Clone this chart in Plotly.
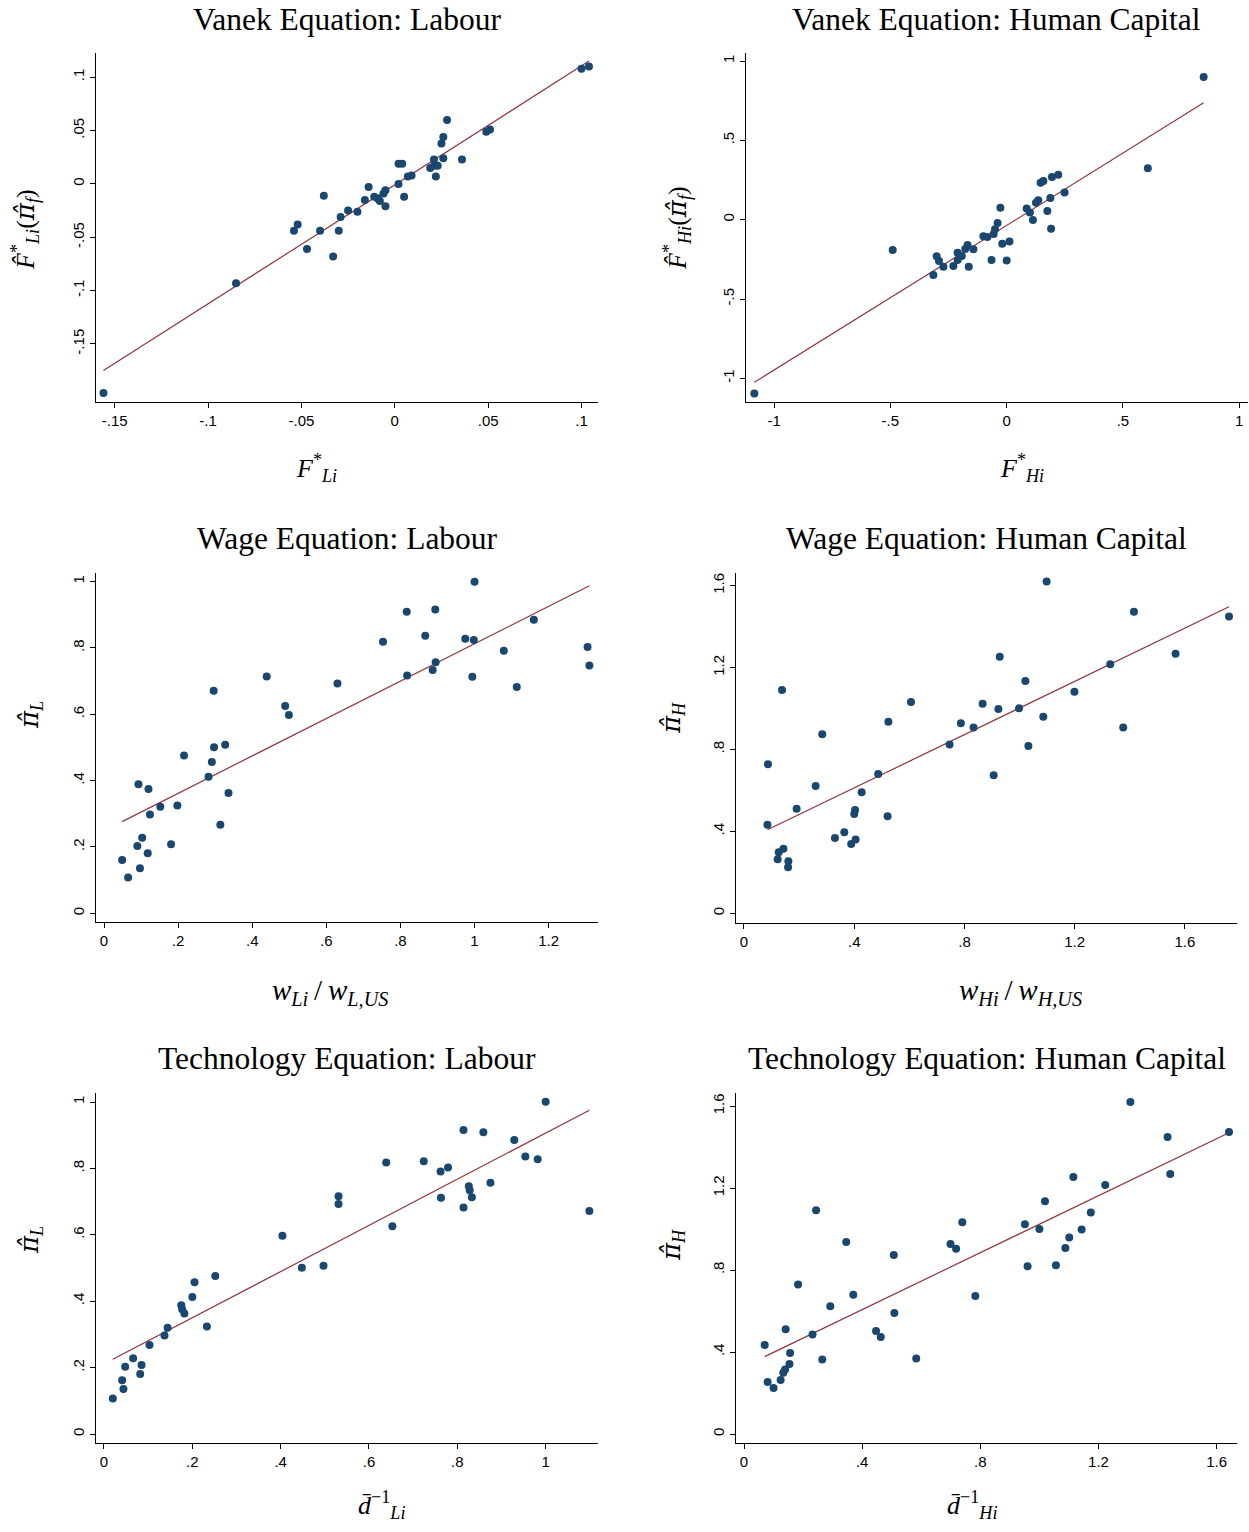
import numpy as np
import plotly.graph_objects as go

# ---------------- data ----------------
# Vanek Equation: Labour
vl_x = [-0.156, -0.085, -0.054, -0.052, -0.047, -0.040, -0.038, -0.033, -0.030, -0.029,
        -0.025, -0.020, -0.016, -0.014, -0.011, -0.009, -0.008, -0.006, -0.005, -0.005,
        0.002, 0.002, 0.004, 0.005, 0.007, 0.009, 0.019, 0.021, 0.021, 0.022,
        0.023, 0.025, 0.026, 0.026, 0.028, 0.036, 0.049, 0.051, 0.100, 0.104]
vl_y = [-0.196, -0.093, -0.044, -0.038, -0.061, -0.044, -0.011, -0.068, -0.044, -0.031,
        -0.025, -0.026, -0.015, -0.003, -0.012, -0.014, -0.016, -0.009, -0.006, -0.021,
        0.000, 0.019, 0.019, -0.012, 0.007, 0.008, 0.015, 0.023, 0.017, 0.007,
        0.017, 0.038, 0.044, 0.024, 0.060, 0.023, 0.049, 0.051, 0.108, 0.110]

# Vanek Equation: Human Capital
vh_x = [-1.085, -0.490, -0.315, -0.301, -0.291, -0.272, -0.229, -0.211, -0.211, -0.193,
        -0.178, -0.168, -0.163, -0.143, -0.100, -0.083, -0.065, -0.056, -0.050, -0.039,
        -0.027, -0.019, 0.000, 0.012, 0.086, 0.100, 0.113, 0.126, 0.136, 0.146,
        0.158, 0.175, 0.188, 0.191, 0.195, 0.222, 0.249, 0.607, 0.847]
vh_y = [-1.095, -0.191, -0.349, -0.231, -0.261, -0.296, -0.292, -0.208, -0.254, -0.229,
        -0.185, -0.160, -0.296, -0.187, -0.105, -0.109, -0.254, -0.090, -0.061, -0.021,
        0.076, -0.151, -0.258, -0.137, 0.071, 0.046, -0.002, 0.107, 0.122, 0.233,
        0.244, 0.055, 0.137, -0.057, 0.269, 0.284, 0.172, 0.324, 0.899]

# Wage Equation: Labour
wl_x = [0.049, 0.065, 0.090, 0.093, 0.097, 0.103, 0.118, 0.120, 0.124, 0.152,
        0.181, 0.198, 0.216, 0.282, 0.291, 0.296, 0.297, 0.314, 0.327, 0.336,
        0.439, 0.489, 0.499, 0.630, 0.753, 0.817, 0.818, 0.867, 0.887, 0.894,
        0.895, 0.975, 0.994, 0.998, 1.000, 1.079, 1.114, 1.160, 1.305, 1.310]
wl_y = [0.161, 0.108, 0.203, 0.389, 0.136, 0.228, 0.181, 0.375, 0.298, 0.321,
        0.208, 0.325, 0.476, 0.412, 0.456, 0.671, 0.501, 0.267, 0.508, 0.363,
        0.714, 0.625, 0.598, 0.693, 0.819, 0.909, 0.717, 0.837, 0.734, 0.916,
        0.757, 0.828, 0.713, 0.824, 1.000, 0.792, 0.682, 0.885, 0.803, 0.747]

# Wage Equation: Human Capital
wh_x = [0.085, 0.087, 0.122, 0.126, 0.138, 0.143, 0.161, 0.160, 0.191, 0.260,
        0.284, 0.330, 0.364, 0.389, 0.400, 0.403, 0.405, 0.427, 0.487, 0.521,
        0.524, 0.606, 0.746, 0.787, 0.833, 0.866, 0.906, 0.923, 0.928, 0.998,
        1.021, 1.032, 1.086, 1.098, 1.199, 1.329, 1.376, 1.415, 1.566, 1.760]
wh_y = [0.433, 0.728, 0.264, 0.298, 1.091, 0.316, 0.254, 0.225, 0.511, 0.622,
        0.874, 0.368, 0.396, 0.339, 0.485, 0.505, 0.361, 0.591, 0.680, 0.474,
        0.936, 1.032, 0.824, 0.928, 0.907, 1.024, 0.674, 0.998, 1.253, 1.001,
        1.134, 0.817, 0.960, 1.621, 1.082, 1.216, 0.908, 1.473, 1.268, 1.450]

# Technology Equation: Labour
tl_x = [0.020, 0.041, 0.044, 0.048, 0.066, 0.082, 0.085, 0.103, 0.137, 0.144,
        0.175, 0.177, 0.182, 0.200, 0.205, 0.233, 0.252, 0.404, 0.448, 0.497,
        0.531, 0.531, 0.639, 0.653, 0.724, 0.762, 0.763, 0.779, 0.814, 0.814,
        0.826, 0.828, 0.833, 0.859, 0.875, 0.929, 0.954, 0.982, 1.000, 1.099]
tl_y = [0.107, 0.162, 0.136, 0.203, 0.228, 0.181, 0.208, 0.268, 0.297, 0.320,
        0.388, 0.376, 0.363, 0.413, 0.457, 0.324, 0.476, 0.597, 0.501, 0.507,
        0.716, 0.693, 0.818, 0.626, 0.822, 0.791, 0.712, 0.803, 0.916, 0.682,
        0.746, 0.734, 0.713, 0.909, 0.757, 0.886, 0.836, 0.828, 1.001, 0.672]

# Technology Equation: Human Capital
th_x = [0.070, 0.080, 0.100, 0.124, 0.133, 0.139, 0.141, 0.154, 0.156, 0.183,
        0.232, 0.244, 0.265, 0.292, 0.346, 0.370, 0.447, 0.463, 0.507, 0.509,
        0.583, 0.699, 0.718, 0.739, 0.783, 0.951, 0.960, 1.000, 1.019, 1.056,
        1.088, 1.101, 1.115, 1.143, 1.174, 1.223, 1.308, 1.434, 1.443, 1.642]
th_y = [0.434, 0.254, 0.224, 0.263, 0.299, 0.315, 0.511, 0.342, 0.395, 0.729,
        0.486, 1.091, 0.363, 0.623, 0.937, 0.680, 0.502, 0.473, 0.873, 0.590,
        0.369, 0.927, 0.904, 1.033, 0.673, 1.023, 0.818, 1.000, 1.135, 0.823,
        0.907, 0.959, 1.254, 0.998, 1.081, 1.215, 1.620, 1.449, 1.268, 1.473]

# tick values / labels
t_vl = [-0.15, -0.1, -0.05, 0, 0.05, 0.1]
l_vl = ["-.15", "-.1", "-.05", "0", ".05", ".1"]
t_vh = [-1, -0.5, 0, 0.5, 1]
l_vh = ["-1", "-.5", "0", ".5", "1"]
t_02 = [0, 0.2, 0.4, 0.6, 0.8, 1]
l_02 = ["0", ".2", ".4", ".6", ".8", "1"]
t_02x = [0, 0.2, 0.4, 0.6, 0.8, 1, 1.2]
l_02x = ["0", ".2", ".4", ".6", ".8", "1", "1.2"]
t_04 = [0, 0.4, 0.8, 1.2, 1.6]
l_04 = ["0", ".4", ".8", "1.2", "1.6"]

titles = ["Vanek Equation: Labour", "Vanek Equation: Human Capital",
          "Wage Equation: Labour", "Wage Equation: Human Capital",
          "Technology Equation: Labour", "Technology Equation: Human Capital"]

PIHAT = "<span style=\"font-family:DejaVu Serif\"><i>\u03c0\u0302</i></span>"
xtitles = ["<i>F</i><sup>*</sup><sub><i>Li</i></sub>",
           "<i>F</i><sup>*</sup><sub><i>Hi</i></sub>",
           "<i>w</i><sub><i>Li</i></sub>\u2009/\u2009<i>w</i><sub><i>L,US</i></sub>",
           "<i>w</i><sub><i>Hi</i></sub>\u2009/\u2009<i>w</i><sub><i>H,US</i></sub>",
           "<i>d\u0304</i><sup>\u22121</sup><sub><i>Li</i></sub>",
           "<i>d\u0304</i><sup>\u22121</sup><sub><i>Hi</i></sub>"]
ytitles = ["<i>F\u0302</i><sup>*</sup><sub><i>Li</i></sub>(" + PIHAT + "<sub><i>f</i></sub>)",
           "<i>F\u0302</i><sup>*</sup><sub><i>Hi</i></sub>(" + PIHAT + "<sub><i>f</i></sub>)",
           PIHAT + "<sub><i>L</i></sub>",
           PIHAT + "<sub><i>H</i></sub>",
           PIHAT + "<sub><i>L</i></sub>",
           PIHAT + "<sub><i>H</i></sub>"]
xtitle_size = [26, 26, 29, 29, 26, 26]

# ---------------- layout geometry (reference pixel coordinates) ----------------
W, H = 1249, 1532
panels = [
    dict(x=vl_x, y=vl_y, xt=(t_vl, l_vl), yt=(t_vl, l_vl), xr=[-0.160, 0.109], yr=[-0.2047, 0.123],
         px=(96, 598.3), py=(52.7, 402.3)),
    dict(x=vh_x, y=vh_y, xt=(t_vh, l_vh), yt=(t_vh, l_vh), xr=[-1.122, 1.039], yr=[-1.151, 1.0525],
         px=(745.7, 1248.3), py=(52.7, 402.3)),
    dict(x=wl_x, y=wl_y, xt=(t_02x, l_02x), yt=(t_02, l_02), xr=[-0.0216, 1.334], yr=[-0.0271, 1.027],
         px=(96, 598.3), py=(572.7, 922.3)),
    dict(x=wh_x, y=wh_y, xt=(t_04, l_04), yt=(t_04, l_04), xr=[-0.029, 1.79], yr=[-0.0456, 1.6634],
         px=(736, 1237.3), py=(572.7, 922.7)),
    dict(x=tl_x, y=tl_y, xt=(t_02, l_02), yt=(t_02, l_02), xr=[-0.0181, 1.1192], yr=[-0.0261, 1.0281],
         px=(96, 598.3), py=(1092.7, 1442.7)),
    dict(x=th_x, y=th_y, xt=(t_04, l_04), yt=(t_04, l_04), xr=[-0.0271, 1.67], yr=[-0.0423, 1.665],
         px=(736, 1237.3), py=(1092.7, 1442.7)),
]
title_y = [19, 19, 538, 538, 1058, 1058]
xtitle_pos = [(317, 468), (1022, 468), (330, 992), (1020, 992), (382, 1505), (972, 1505)]
ytitle_pos = [(25, 230), (677, 228), (30, 715), (672, 718), (30, 1240), (672, 1245)]


def fx(v):
    return v / W


def fy(v):
    return 1 - v / H


MARK = "#1a476f"
LINE = "#90353b"
TICKFONT = dict(family="Liberation Sans, Arial, sans-serif", size=15, color="black")
MATHFAM = "Liberation Serif, Times New Roman, serif"
TITLEFONT = dict(family="Liberation Serif, Times New Roman, serif", size=31.5, color="black")

fig = go.Figure()
annotations = []
layout = {}
for i, p in enumerate(panels):
    k = "" if i == 0 else str(i + 1)
    xa, ya = "x" + k, "y" + k
    x = np.array(p["x"]); y = np.array(p["y"])
    b, a = np.polyfit(x, y, 1)
    xl = np.array([x.min(), x.max()])
    fig.add_trace(go.Scatter(x=xl, y=a + b * xl, mode="lines", xaxis=xa, yaxis=ya,
                             line=dict(color=LINE, width=1.2), showlegend=False, hoverinfo="skip"))
    fig.add_trace(go.Scatter(x=x, y=y, mode="markers", xaxis=xa, yaxis=ya,
                             marker=dict(color=MARK, size=8, line=dict(width=0)), showlegend=False))
    x0, x1 = p["px"]; y0, y1 = p["py"]
    common = dict(showline=True, linecolor="black", linewidth=1, ticks="outside", ticklen=5,
                  tickwidth=1, tickcolor="black", showgrid=False, zeroline=False,
                  tickfont=TICKFONT, fixedrange=True)
    layout["xaxis" + k] = dict(domain=[fx(x0), min(fx(x1), 1.0)], range=p["xr"], anchor=ya,
                               tickvals=p["xt"][0], ticktext=p["xt"][1], **common)
    layout["yaxis" + k] = dict(domain=[fy(y1), fy(y0)], range=p["yr"], anchor=xa,
                               tickvals=p["yt"][0], ticktext=p["yt"][1], tickangle=-90, **common)
    annotations.append(dict(text=titles[i], x=fx((x0 + x1) / 2), y=fy(title_y[i]),
                            xref="paper", yref="paper", xanchor="center", yanchor="middle",
                            showarrow=False, font=TITLEFONT, borderpad=0))
    tx, ty = xtitle_pos[i]
    annotations.append(dict(text=xtitles[i], x=fx(tx), y=fy(ty), xref="paper", yref="paper",
                            xanchor="center", yanchor="middle", showarrow=False,
                            font=dict(family=MATHFAM, size=xtitle_size[i], color="black")))
    tx, ty = ytitle_pos[i]
    annotations.append(dict(text=ytitles[i], x=fx(tx), y=fy(ty), xref="paper", yref="paper",
                            xanchor="center", yanchor="middle", showarrow=False,
                            font=dict(family=MATHFAM, size=26, color="black"), textangle=-90))

fig.update_layout(width=W, height=H, margin=dict(l=0, r=0, t=0, b=0),
                  paper_bgcolor="white", plot_bgcolor="white", showlegend=False,
                  annotations=annotations, **layout)
fig.write_html("out.html", config={"displayModeBar": False},
               post_script="document.body.style.margin='0';document.body.style.padding='0';")
